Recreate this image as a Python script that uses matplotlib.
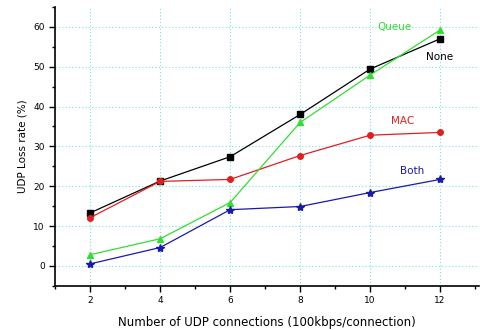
import numpy as np
import matplotlib.pyplot as plt

# UDP loss rate vs number of UDP connections
conns = [2, 4, 6, 8, 10, 12]
loss_none = [13.3, 21.3, 27.4, 38.0, 49.4, 57.0]
loss_queue = [2.8, 6.8, 15.9, 36.0, 47.9, 59.2]
loss_mac = [12.1, 21.2, 21.7, 27.7, 32.8, 33.5]
loss_both = [0.5, 4.6, 14.1, 14.9, 18.4, 21.7]

fig = plt.figure(figsize=(4.8, 3.3), dpi=100)
ax = fig.add_axes([0.115, 0.134, 0.882, 0.845])

grid_c = '#7fdde6'
for x in range(2, 13, 2):
    ax.axvline(x, color=grid_c, lw=0.8, ls=(0, (1, 2)), zorder=0)
for y in range(0, 61, 10):
    ax.axhline(y, color=grid_c, lw=0.8, ls=(0, (1, 2)), zorder=0)

ax.plot(conns, loss_none, color='black', marker='s', ms=4, lw=0.9)
ax.plot(conns, loss_mac, color='#e02020', marker='o', ms=4, lw=0.9)
ax.plot(conns, loss_queue, color='#33dd33', marker='^', ms=5, lw=0.9)
ax.plot(conns, loss_both, color='#1a1aaa', marker='*', ms=6, lw=0.9)

ax.text(10.2, 60.0, 'Queue', color='#33dd33', fontsize=7.5, va='center')
ax.text(11.6, 52.4, 'None', color='black', fontsize=7.5, va='center')
ax.text(10.6, 36.3, 'MAC', color='#e02020', fontsize=7.5, va='center')
ax.text(10.85, 23.9, 'Both', color='#1a1aaa', fontsize=7.5, va='center')

ax.set_xlim(1, 13.1)
ax.set_ylim(-5, 65)
ax.set_xticks(range(2, 13, 2))
ax.set_xticks(range(1, 14, 2), minor=True)
ax.set_yticks(range(0, 61, 10))
ax.set_yticks(range(-5, 66, 10), minor=True)
ax.tick_params(labelsize=6.5, length=4, width=1)
ax.tick_params(which='minor', length=2.5, width=1)
for s in ['top', 'right']:
    ax.spines[s].set_visible(False)
for s in ['left', 'bottom']:
    ax.spines[s].set_linewidth(1.2)

ax.set_xlabel('Number of UDP connections (100kbps/connection)', fontsize=8.5, labelpad=8)
ax.set_ylabel('UDP Loss rate (%)', fontsize=7.5)

fig.savefig('out.png', dpi=100)
